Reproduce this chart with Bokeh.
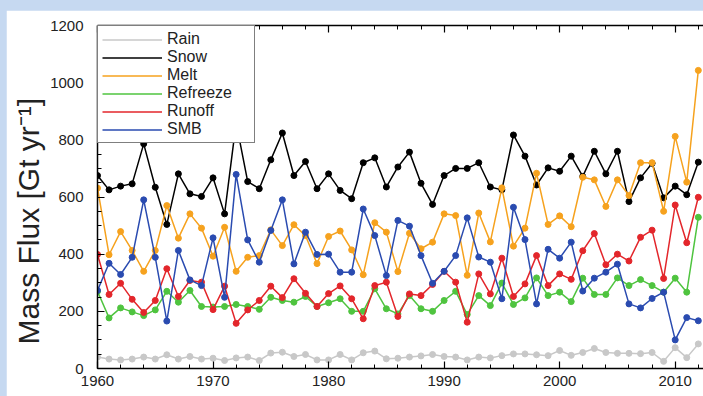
import math
from bokeh.plotting import figure
from bokeh.models import (Range1d, SingleIntervalTicker, LinearAxis, Legend,
                          LegendItem, Title)
from bokeh.layouts import column
from bokeh.embed import file_html
from bokeh.resources import INLINE

years = list(range(1960, 2013))

rain = [40, 33, 30, 33, 40, 33, 48, 33, 42, 33,
        36, 28, 37, 40, 28, 54, 57, 42, 49, 30,
        30, 49, 30, 55, 61, 34, 36, 40, 44, 49,
        42, 40, 30, 40, 37, 45, 51, 51, 48, 45,
        63, 46, 56, 70, 56, 53, 53, 52, 56, 25,
        73, 38, 86]

snow = [675, 625, 638, 646, 786, 634, 504, 681, 611, 602,
        667, 541, 860, 654, 629, 730, 824, 675, 724, 629,
        681, 623, 594, 720, 737, 635, 705, 757, 648, 574,
        675, 700, 700, 720, 635, 625, 817, 743, 642, 702,
        690, 743, 672, 760, 681, 760, 584, 667, 718, 597,
        638, 608, 722]

melt = [631, 398, 479, 413, 340, 413, 570, 456, 541, 491,
        393, 494, 340, 389, 395, 485, 430, 503, 465, 367,
        462, 481, 415, 328, 510, 477, 339, 473, 419, 442,
        541, 535, 326, 544, 443, 632, 428, 491, 683, 504,
        534, 496, 669, 660, 567, 660, 605, 720, 720, 550,
        812, 652, 1043]

refreeze = [270, 177, 212, 198, 185, 205, 270, 232, 273, 217,
            215, 217, 224, 217, 207, 249, 238, 232, 252, 217,
            230, 244, 200, 200, 279, 209, 191, 255, 209, 200,
            238, 270, 189, 255, 220, 299, 224, 247, 317, 255,
            267, 234, 316, 259, 259, 317, 290, 311, 290, 267,
            316, 267, 529]

runoff = [399, 259, 298, 242, 196, 238, 349, 252, 308, 302,
          206, 288, 158, 205, 238, 288, 248, 314, 263, 217,
          262, 289, 244, 174, 290, 302, 182, 261, 255, 294,
          340, 302, 162, 331, 261, 386, 252, 296, 395, 290,
          331, 312, 412, 472, 363, 400, 376, 459, 484, 315,
          572, 440, 599]

smb = [273, 368, 329, 389, 590, 389, 166, 413, 310, 290,
       457, 249, 679, 450, 372, 483, 590, 366, 477, 399,
       400, 337, 337, 558, 465, 325, 518, 498, 395, 298,
       340, 395, 527, 390, 372, 244, 564, 451, 226, 417,
       386, 442, 271, 316, 337, 365, 226, 212, 245, 267,
       100, 178, 167]

series_names = ["Rain", "Snow", "Melt", "Refreeze", "Runoff", "SMB"]
series_values = [rain, snow, melt, refreeze, runoff, smb]
series_colors = ["#c8c8c8", "#000000", "#f6a21e", "#4fc43f", "#e3262b", "#2a4bb0"]

y_label = "Mass Flux [Gt yr\u207b\u00b9]"

FONT = "Liberation Sans"

p = figure(width=697, height=386, output_backend="svg", toolbar_location=None,
           x_range=Range1d(1960, 2012.45), y_range=Range1d(0, 1200),
           min_border_left=91, min_border_right=0, min_border_top=15,
           min_border_bottom=28, outline_line_color=None,
           background_fill_color="white", border_fill_color="white")
p.margin = (10, 0, 0, 6)
p.grid.visible = False

bottom_axis = p.below[0]
left_axis = p.left[0]
bottom_axis.ticker = SingleIntervalTicker(interval=10, num_minor_ticks=5)
left_axis.ticker = SingleIntervalTicker(interval=200, num_minor_ticks=4)

top_axis = LinearAxis(ticker=SingleIntervalTicker(interval=10, num_minor_ticks=5),
                      major_label_text_font_size="0px", major_label_standoff=0,
                      major_label_text_color=None)
p.add_layout(top_axis, "above")

for ax in [bottom_axis, left_axis, top_axis]:
    ax.axis_line_color = "black"
    ax.axis_line_width = 1.5
    ax.major_tick_in = 7
    ax.major_tick_out = 0
    ax.minor_tick_in = 4
    ax.minor_tick_out = 0
    ax.major_tick_line_color = "black"
    ax.minor_tick_line_color = "black"
    ax.major_tick_line_width = 1.2
    ax.minor_tick_line_width = 1.0
for ax in [bottom_axis, left_axis]:
    ax.major_label_text_font = FONT
    ax.major_label_text_font_size = "15px"
    ax.major_label_text_color = "#222222"
bottom_axis.major_label_standoff = 7
left_axis.major_label_standoff = 14

items = []
for name, vals, col in zip(series_names, series_values, series_colors):
    r = p.line(years, vals, line_color=col, line_width=1.5)
    p.scatter(years, vals, size=6, fill_color=col, line_color=col)
    items.append(LegendItem(label=name, renderers=[r]))

legend = Legend(items=items, location="top_left", margin=0, padding=4,
                spacing=0, glyph_width=60, glyph_height=17, label_height=17,
                label_standoff=5, label_width=83,
                label_text_font=FONT, label_text_font_size="16px",
                label_text_color="#222222",
                border_line_color="black", border_line_width=1.5,
                background_fill_color="white", background_fill_alpha=1.0)
p.add_layout(legend)

ytitle = Title(text=y_label, align="left", offset=24, standoff=6,
               text_font=FONT, text_font_size="30px", text_font_style="normal",
               text_color="#222222")
p.add_layout(ytitle, "left")

layout = column(p, styles={"background-color": "#c6d9f1"})

open("out.html", "w").write(file_html(layout, INLINE))
